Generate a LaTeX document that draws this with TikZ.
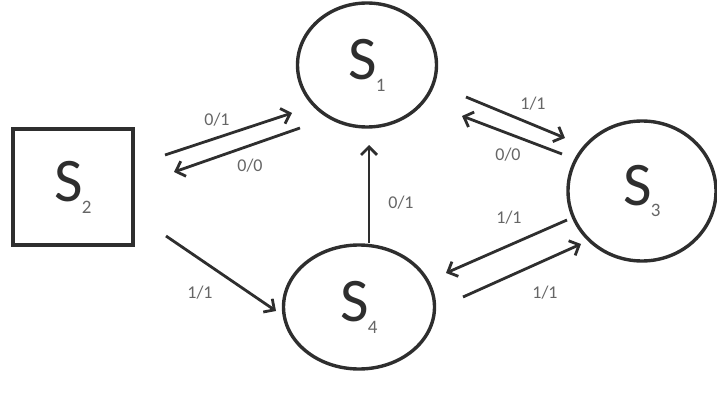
\documentclass[tikz,border=0pt]{standalone}
\usepackage{fontspec}
\setmainfont{Carlito}
\usetikzlibrary{shapes.geometric,arrows.meta}
\definecolor{ink}{HTML}{2E2E2E}
\definecolor{lab}{HTML}{666666}
\tikzset{
  state/.style={draw=ink, line width=3.4pt, ellipse, inner sep=0pt},
  box/.style={draw=ink, line width=3.4pt, rectangle, inner sep=0pt, minimum width=120pt, minimum height=116pt},
  arr/.style={draw=ink, line width=2.8pt, -{Straight Barb[length=8pt,width=16pt,line width=2.8pt]}},
  lbl/.style={text=lab, font=\fontsize{18}{18}\selectfont, inner sep=0pt},
  big/.style={font=\fontsize{62}{62}\selectfont, text=ink}
}
\newcommand{\stname}[1]{S\kern-1pt\raisebox{-0.4ex}{\fontsize{19}{19}\selectfont\color{lab}#1}}
\begin{document}
\begin{tikzpicture}[x=1pt,y=-1pt]
\useasboundingbox (0,0) rectangle (717,401);
% states
\node[box] (s2) at (73,187) {};
\node[big] at (s2) {\stname{2}};
\node[state, minimum width=139pt, minimum height=124pt] (s1) at (367,65) {};
\node[big] at (s1) {\stname{1}};
\node[state, minimum width=148pt, minimum height=140pt] (s3) at (642,191) {};
\node[big] at (s3) {\stname{3}};
\node[state, minimum width=151pt, minimum height=124pt] (s4) at (359,307) {};
\node[big] at (s4) {\stname{4}};
% arrow endpoints
\coordinate (a1s) at (165,155); \coordinate (a1e) at (292,113);
\coordinate (a2s) at (300,128); \coordinate (a2e) at (174,172);
\coordinate (a3s) at (466,97);  \coordinate (a3e) at (565,138);
\coordinate (a4s) at (562,154); \coordinate (a4e) at (462,116);
\coordinate (a5s) at (567,220); \coordinate (a5e) at (446,273);
\coordinate (a6s) at (463,297); \coordinate (a6e) at (581,244);
\coordinate (a7s) at (166,236); \coordinate (a7e) at (276,311);
\coordinate (a8s) at (369,243); \coordinate (a8e) at (369,145);
\draw[arr] (a1s) -- (a1e);
\draw[arr] (a2s) -- (a2e);
\draw[arr] (a3s) -- (a3e);
\draw[arr] (a4s) -- (a4e);
\draw[arr] (a5s) -- (a5e);
\draw[arr] (a6s) -- (a6e);
\draw[arr] (a7s) -- (a7e);
\draw[arr] (a8s) -- (a8e);
% labels
\node[lbl] (l1) at (217,120) {0/1};
\node[lbl] (l2) at (250,166) {0/0};
\node[lbl] (l3) at (533,104) {1/1};
\node[lbl] (l4) at (508,155) {0/0};
\node[lbl] (l5) at (509,218) {1/1};
\node[lbl] (l6) at (545,293) {1/1};
\node[lbl] (l7) at (200,293) {1/1};
\node[lbl] (l8) at (401,203) {0/1};
\end{tikzpicture}
\end{document}
